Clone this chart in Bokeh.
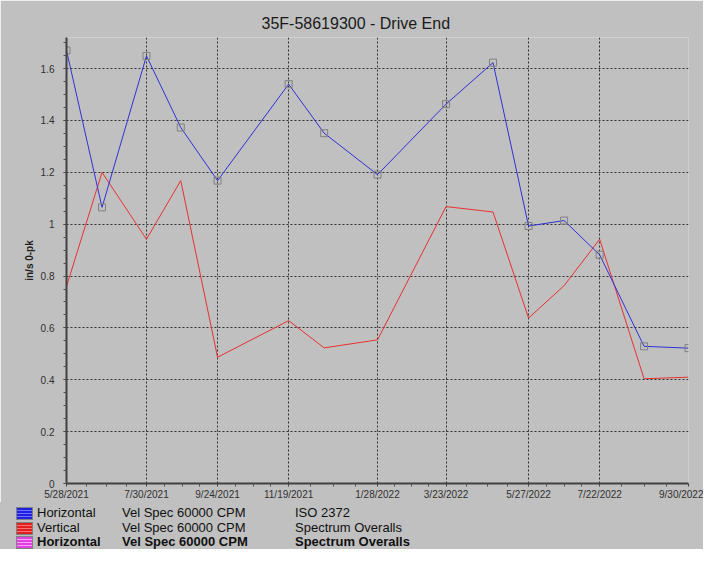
import pandas as pd
from bokeh.plotting import figure
from bokeh.models import Range1d, FixedTicker, Div
from bokeh.layouts import column
from bokeh.embed import file_html
from bokeh.resources import INLINE

# ---------------- data ----------------
title_text = "35F-58619300 - Drive End"
y_label = "in/s 0-pk"

dates = ["5/28/2021", "6/25/2021", "7/30/2021", "8/26/2021", "9/24/2021",
         "11/19/2021", "12/17/2021", "1/28/2022", "3/23/2022", "4/29/2022",
         "5/27/2022", "6/24/2022", "7/22/2022", "8/26/2022", "9/30/2022"]
horizontal = [1.670, 1.065, 1.649, 1.373, 1.168, 1.540, 1.351, 1.191,
              1.463, 1.623, 0.993, 1.014, 0.882, 0.529, 0.522]
vertical = [0.760, 1.200, 0.942, 1.168, 0.487, 0.628, 0.523, 0.554,
            1.068, 1.047, 0.638, 0.763, 0.942, 0.404, 0.410]

x_tick_labels = ["5/28/2021", "7/30/2021", "9/24/2021", "11/19/2021", "1/28/2022",
                 "3/23/2022", "5/27/2022", "7/22/2022", "9/30/2022"]
y_ticks = [0, 0.2, 0.4, 0.6, 0.8, 1.0, 1.2, 1.4, 1.6]
y_tick_labels = ["0", "0.2", "0.4", "0.6", "0.8", "1", "1.2", "1.4", "1.6"]

legend_names = ["Horizontal", "Vertical", "Horizontal"]
legend_points = ["Vel Spec 60000 CPM", "Vel Spec 60000 CPM", "Vel Spec 60000 CPM"]
legend_sources = ["ISO 2372", "Spectrum Overalls", "Spectrum Overalls"]
legend_colors = ["#2020e0", "#e02020", "#e040e0"]
legend_stripes = ["#7070ff", "#ff7070", "#ffa0ff"]
legend_bold = [False, False, True]

# ---------------- helpers ----------------
def to_ms(lst):
    return [float(v) for v in (pd.to_datetime(lst, format="%m/%d/%Y").asi8 // 10**6)]

x_ms = to_ms(dates)
xt_ms = to_ms(x_tick_labels)
minor = []
for a, b in zip(xt_ms[:-1], xt_ms[1:]):
    minor += [a + (b - a) * k / 4.0 for k in (1, 2, 3)]

BG = "#c0c0c0"
FONT = "Liberation Sans"
W = 703
MAIN_H = 502
LEG_H = 47
LEFT, RIGHT, TOP = 66, 15, 37
FRAME_BOTTOM = 484

# ---------------- main chart ----------------
p = figure(width=W, height=MAIN_H, x_axis_type="datetime",
           output_backend="svg", toolbar_location=None,
           x_range=Range1d(x_ms[0], xt_ms[-1]), y_range=Range1d(0, 1.72),
           min_border_left=LEFT, min_border_right=RIGHT, min_border_top=TOP,
           min_border_bottom=MAIN_H - FRAME_BOTTOM, title=title_text)
p.background_fill_color = BG
p.border_fill_color = BG
p.outline_line_color = None

p.title.align = "left"
p.title.offset = 195
p.title.text_font = FONT
p.title.text_font_size = "16px"
p.title.text_font_style = "normal"
p.title.text_color = "#1a1a1a"
p.title.standoff = 12

p.xaxis.ticker = FixedTicker(ticks=xt_ms, minor_ticks=minor)
p.xaxis.major_label_overrides = {t: s for t, s in zip(xt_ms, x_tick_labels)}
p.yaxis.ticker = FixedTicker(ticks=y_ticks,
                             minor_ticks=[i * 0.05 for i in range(0, 35)])
p.yaxis.major_label_overrides = {t: s for t, s in zip(y_ticks, y_tick_labels)}

for ax in (p.xaxis, p.yaxis):
    ax.axis_line_color = "#404040"
    ax.axis_line_width = 2
    ax.major_tick_line_color = "#404040"
    ax.minor_tick_line_color = "#505050"
    ax.major_tick_out = 3
    ax.major_tick_in = 0
    ax.minor_tick_out = 3
    ax.minor_tick_in = 0
    ax.major_label_text_font = FONT
    ax.major_label_text_font_size = "10px"
    ax.major_label_text_color = "#303030"

p.xaxis.major_label_standoff = 2
p.yaxis.major_label_standoff = 9

p.yaxis.axis_label = y_label
p.yaxis.axis_label_text_font = FONT
p.yaxis.axis_label_text_font_size = "10px"
p.yaxis.axis_label_text_font_style = "bold"
p.yaxis.axis_label_text_color = "#202020"
p.yaxis.axis_label_standoff = 3

for g in (p.xgrid, p.ygrid):
    g.grid_line_color = "#303030"
    g.grid_line_dash = "2 2"
    g.grid_line_width = 1

p.line(x_ms, vertical, line_color="#e83030", line_width=1)
p.line(x_ms, horizontal, line_color="#3030d8", line_width=1)
p.scatter(x_ms, horizontal, marker="square", size=7, fill_color=None,
          line_color="#808080", line_width=1)

# ---------------- legend (HTML strip below the chart) ----------------
row_tops = [4, 19, 33]
col_x = [37, 122, 295]
parts = []
for i in range(3):
    t = row_tops[i]
    parts.append(
        f'<div style="position:absolute;left:16px;top:{t + 1}px;width:17px;height:13px;'
        f'box-sizing:border-box;border:1px solid #808080;'
        f'background:repeating-linear-gradient(to bottom,{legend_colors[i]} 0px,'
        f'{legend_colors[i]} 2px,{legend_stripes[i]} 2px,{legend_stripes[i]} 3px);"></div>')
    weight = "bold" if legend_bold[i] else "normal"
    for x, txt in zip(col_x, (legend_names[i], legend_points[i], legend_sources[i])):
        parts.append(
            f'<span style="position:absolute;left:{x}px;top:{t}px;line-height:14px;'
            f'font-family:\'{FONT}\';font-size:13px;font-weight:{weight};'
            f'color:#101010;white-space:nowrap;">{txt}</span>')
legend_html = (f'<div style="position:relative;width:{W}px;height:{LEG_H}px;'
               f'background:{BG};margin:0;padding:0;">' + "".join(parts) + '</div>')
legend = Div(text=legend_html, width=W, height=LEG_H, margin=0,
             styles={"background-color": BG})

layout = column(p, legend, spacing=0)
open("out.html", "w").write(file_html(layout, INLINE))
